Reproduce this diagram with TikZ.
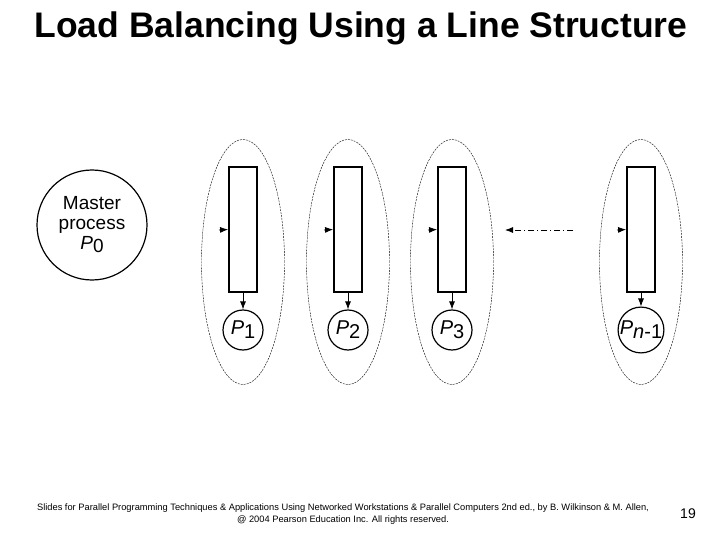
\documentclass[tikz,border=0pt]{standalone}
\usepackage{fontspec}
\setmainfont{Liberation Sans}
\usetikzlibrary{shapes.geometric,arrows.meta}
\begin{document}
\begin{tikzpicture}[x=1pt,y=-1pt,
  grp/.style={draw,dashed,dash pattern=on 2pt off 1pt,thin,ellipse,minimum width=83pt,minimum height=245pt,inner sep=0pt},
  buf/.style={draw,line width=1.8pt,minimum width=28pt,minimum height=125pt,inner sep=0pt},
  proc/.style={draw,line width=1.2pt,circle,minimum size=40pt,inner sep=0pt,font=\fontsize{20}{22}\selectfont},
  arr/.style={-{Latex[length=8pt,width=6pt]},line width=0.8pt}]
\useasboundingbox (0,0) rectangle (720,540);
\node at (361,28) {\fontsize{35.5}{40}\selectfont\bfseries Load Balancing Using a Line Structure};
\node[draw,line width=1.2pt,circle,minimum size=110pt,inner sep=0pt,align=center,font=\fontsize{19}{20}\selectfont] (m) at (92,225) {Master\\process\\\textit{P}\raisebox{-3pt}{0}};
\foreach \i/\x/\lab in {1/243/1,2/348/2,3/452/3,4/641/{\textit{n}-1}}{
  \node[grp] (e\i) at (\x,262) {};
  \node[buf] (b\i) at (\x,229.5) {};
  \node[proc] (p\i) at (\x,330) {\textit{P}\raisebox{-4pt}{\lab}};
  \coordinate (in\i) at (\x-24,230);
  \draw[arr] (in\i) -- (b\i.west);
  \draw[arr] (b\i.south) -- (p\i.north);
}
\coordinate (d1) at (573,230);
\coordinate (d2) at (505,230);
\draw[arr,dash pattern=on 6pt off 3pt on 1pt off 3pt] (d1) -- (d2);
\node[align=center,font=\fontsize{9.3}{12}\selectfont] (ft) at (343,514) {Slides for Parallel Programming Techniques \& Applications Using Networked Workstations \& Parallel Computers 2nd ed., by B. Wilkinson \& M. Allen,\\@ 2004 Pearson Education Inc. All rights reserved.};
\node[font=\fontsize{14}{16}\selectfont] (pg) at (688,514) {19};
\end{tikzpicture}
\end{document}
